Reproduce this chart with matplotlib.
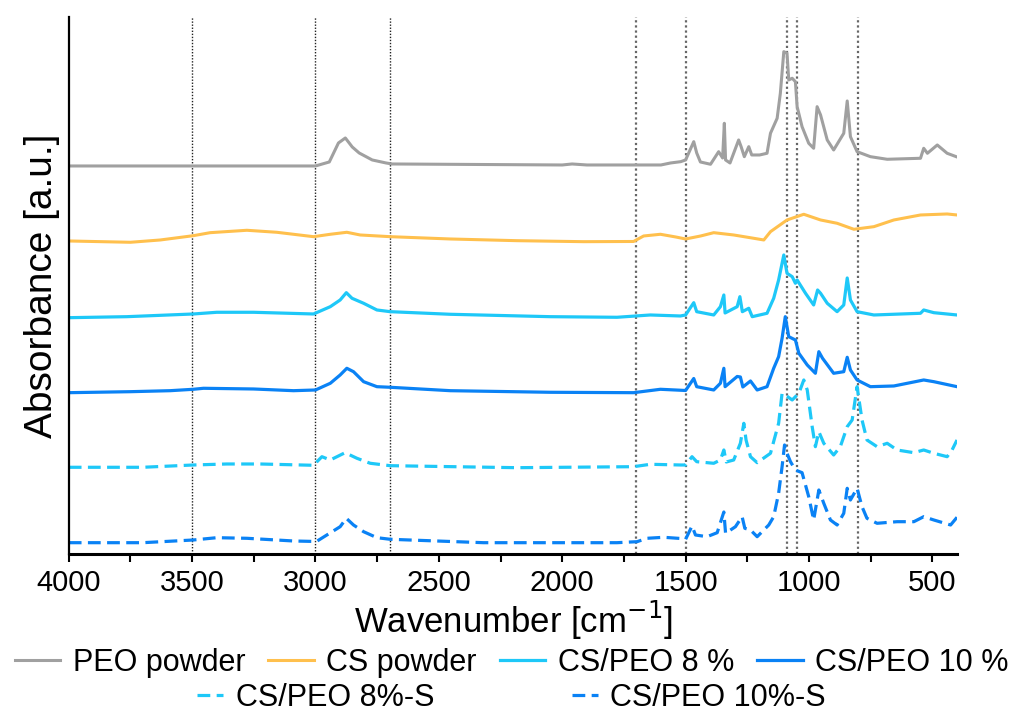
import matplotlib
matplotlib.use("Agg")
import matplotlib.pyplot as plt
from matplotlib.ticker import MultipleLocator

plt.rcParams['font.family'] = ['Liberation Sans', 'DejaVu Sans']

# spectra, offset stacked (a.u.)
peo_wn = [4000, 3000, 2996, 2944, 2907, 2879, 2851, 2823, 2770, 2714, 2690, 2000, 1960, 1900, 1600, 1561,
          1520, 1500, 1467, 1455, 1440, 1399, 1366, 1350, 1343, 1338, 1320, 1285, 1275, 1262, 1244, 1232,
          1200, 1170, 1156, 1129, 1116, 1102, 1089, 1082, 1068, 1055, 1048, 1028, 1001, 981, 967, 953,
          926, 900, 859, 845, 832, 805, 751, 683, 548, 535, 520, 480, 440, 400]
peo_abs = [388, 388, 388.3, 392, 411, 416, 407, 401, 394, 391, 390, 389, 390, 389, 389, 391,
           392.3, 394, 412.3, 401, 392, 389.7, 402.3, 396, 430.7, 394, 391, 414, 407.3, 397.3, 407.3, 399,
           399, 400.7, 420.7, 435.7, 460.7, 502.3, 500.7, 474, 475.7, 472.3, 447.3, 427.3, 410.7, 405.7, 447.3, 439,
           414, 404, 420.7, 453, 417.3, 402.3, 397.3, 394.7, 395.7, 405.7, 400.7, 409, 400.7, 397]

cs_wn = [4000, 3750, 3629, 3495, 3427, 3278, 3157, 3008, 2940, 2873, 2819, 2697, 2454, 2184, 1913, 1711,
         1670, 1602, 1540, 1500, 1439, 1386, 1305, 1224, 1183, 1156, 1089, 1021, 953, 886, 818, 737,
         656, 548, 440, 400]
cs_abs = [313, 311.7, 314, 318.3, 321.3, 323.7, 321.7, 317.3, 319.7, 321.7, 319, 317.3, 315, 313.3, 312.3, 312.5,
          318, 319.7, 317, 315, 318, 321.3, 319, 315.7, 314, 322.3, 334, 339.7, 334, 330.7, 324.7, 327.3,
          334, 339, 340, 339]

p8_wn = [4000, 3765, 3495, 3400, 3251, 3008, 2940, 2900, 2875, 2852, 2805, 2751, 2697, 2454, 2048, 1778,
         1643, 1521, 1500, 1467, 1455, 1386, 1359, 1345, 1340, 1291, 1280, 1270, 1244, 1230, 1170, 1143,
         1123, 1102, 1089, 1068, 1055, 1048, 1014, 981, 965, 953, 926, 886, 859, 845, 832, 805,
         737, 548, 535, 494, 400]
p8_abs = [236.3, 237.3, 240, 241.7, 241.7, 240, 247.3, 254, 261.3, 255.7, 250.7, 244, 242.3, 239.7, 237.3, 236.7,
          239, 238, 239, 251.3, 242.3, 239, 247.3, 259, 241, 247.3, 257.3, 242.3, 245.7, 237.3, 240.7, 255.7,
          274, 299, 280.7, 277.3, 270.7, 274, 260.7, 249, 264, 260.7, 250.7, 242.3, 249, 276, 254, 242.3,
          239, 240.7, 244, 241.3, 239]

p10_wn = [4000, 3750, 3589, 3495, 3454, 3251, 3089, 3000, 2940, 2900, 2873, 2846, 2805, 2751, 2697, 2454,
          2048, 1711, 1602, 1500, 1467, 1455, 1386, 1359, 1345, 1340, 1291, 1278, 1268, 1237, 1210, 1170,
          1143, 1123, 1109, 1096, 1082, 1055, 1041, 1007, 974, 960, 945, 900, 859, 845, 832, 805,
          751, 656, 535, 494, 400]
p10_abs = [161.3, 162.3, 163.3, 164.7, 165.7, 165, 163.3, 164, 170.7, 179, 185.7, 182.3, 172.3, 167.3, 166.7, 163.3,
           161.7, 161.3, 164.7, 163.5, 175.5, 167.3, 164, 170.7, 185.7, 167.3, 177.5, 177, 167, 173, 164, 167.3,
           185.7, 197.3, 215.7, 237.3, 217.3, 214, 200.7, 189, 180.7, 202.3, 195.7, 180.7, 182.3, 196.7, 184, 174,
           167.3, 168, 174, 172.3, 167.3]

p8s_wn = [4000, 3700, 3495, 3359, 3224, 3008, 2974, 2940, 2880, 2832, 2778, 2697, 2184, 1711, 1643, 1521,
          1500, 1474, 1455, 1386, 1359, 1345, 1335, 1305, 1278, 1264, 1255, 1237, 1210, 1156, 1123, 1109,
          1096, 1068, 1041, 1021, 1007, 987, 974, 960, 940, 900, 873, 845, 825, 805, 785, 765,
          724, 683, 643, 575, 535, 494, 440, 420, 400]
p8s_abs = [86.7, 86.7, 89, 90, 90, 88.7, 97.3, 94, 101.3, 95.7, 90.7, 88.3, 86.3, 87.3, 89.7, 89,
           89, 97.3, 92.3, 90.7, 94, 104, 92, 94, 110.7, 130.7, 114, 97.3, 91.3, 100.7, 130.7, 160.7,
           159, 154, 160.7, 174, 164, 127.3, 107.3, 122.3, 110.7, 99, 107.3, 127.3, 134, 167.3, 134, 114,
           107.3, 110.7, 104, 101.3, 104, 100.7, 97.3, 104, 114]

p10s_wn = [4000, 3700, 3495, 3400, 3278, 3089, 2996, 2954, 2900, 2875, 2846, 2805, 2751, 2697, 2319, 1778,
           1697, 1656, 1589, 1520, 1500, 1474, 1460, 1413, 1372, 1345, 1338, 1298, 1271, 1260, 1237, 1210,
           1163, 1143, 1123, 1109, 1099, 1089, 1075, 1055, 1028, 1001, 981, 960, 940, 913, 886, 859,
           845, 832, 805, 785, 765, 724, 643, 575, 535, 494, 426, 400]
p10s_abs = [11.3, 11.3, 14, 16.3, 15.7, 13, 12.5, 19, 27.3, 35.7, 29, 22.3, 16.3, 14.7, 11.3, 11.3,
            12.3, 15.7, 16.7, 15.5, 14.7, 28, 19, 17.3, 21.3, 42, 20.7, 27.3, 37.3, 25.7, 24, 17.3,
            29, 37.3, 60.7, 87.3, 109, 100.7, 92.3, 84, 81.3, 57.3, 34, 64, 50.7, 34, 29, 40.7,
            65.7, 54, 65.7, 47.3, 35.7, 30.7, 32.3, 32.3, 37.3, 34, 29, 36.7]

marker_wn = [3500, 3000, 2700, 1700, 1500, 1090, 1050, 800]

fig = plt.figure(figsize=(10.23, 7.22), dpi=100)
ax = fig.add_axes([0.0672, 0.2327, 0.8683, 0.7438])

for w in marker_wn:
    if w >= 2700:
        ax.axvline(w, color='#222222', lw=1.0, ls=(0, (1, 1.2)), zorder=1)
    else:
        ax.axvline(w, color='#666666', lw=1.6, ls=(0, (1, 1.3)), zorder=1)

ax.plot(peo_wn, peo_abs, color='#a0a0a0', lw=2.2, label='PEO powder')
ax.plot(cs_wn, cs_abs, color='#ffc04d', lw=2.2, label='CS powder')
ax.plot(p8_wn, p8_abs, color='#1ec8f8', lw=2.3, label='CS/PEO 8 %')
ax.plot(p10_wn, p10_abs, color='#0a82f5', lw=2.3, label='CS/PEO 10 %')
ax.plot(p8s_wn, p8s_abs, color='#1ec8f8', lw=2.3, ls=(0, (4, 2)), label='CS/PEO 8%-S')
ax.plot(p10s_wn, p10s_abs, color='#0a82f5', lw=2.3, ls=(0, (4, 2)), label='CS/PEO 10%-S')

ax.set_xlim(4000, 400)
ax.set_ylim(0, 537)
ax.set_yticks([])
ax.xaxis.set_major_locator(MultipleLocator(500))
ax.xaxis.set_minor_locator(MultipleLocator(250))
ax.tick_params(axis='x', which='both', direction='out', length=6, width=1.5, labelsize=21, pad=5)
for s in ['top', 'right']:
    ax.spines[s].set_visible(False)
ax.spines['left'].set_linewidth(1.6)
ax.spines['bottom'].set_linewidth(2.2)

ax.set_xlabel('Wavenumber [cm$^{-1}$]', fontsize=25, labelpad=1)
ax.set_ylabel('Absorbance [a.u.]', fontsize=28, labelpad=6)

h, l = ax.get_legend_handles_labels()
leg1 = fig.legend(h[:4], l[:4], loc='center', bbox_to_anchor=(0.5, 0.082), ncol=4, frameon=False,
                  fontsize=22, handlelength=1.5, handletextpad=0.4, columnspacing=0.75)
leg2 = fig.legend(h[4:], l[4:], loc='center', bbox_to_anchor=(0.5, 0.033), ncol=2, frameon=False,
                  fontsize=22, handlelength=0.85, handletextpad=0.4, columnspacing=4.5)

fig.savefig('out.png', dpi=100)
